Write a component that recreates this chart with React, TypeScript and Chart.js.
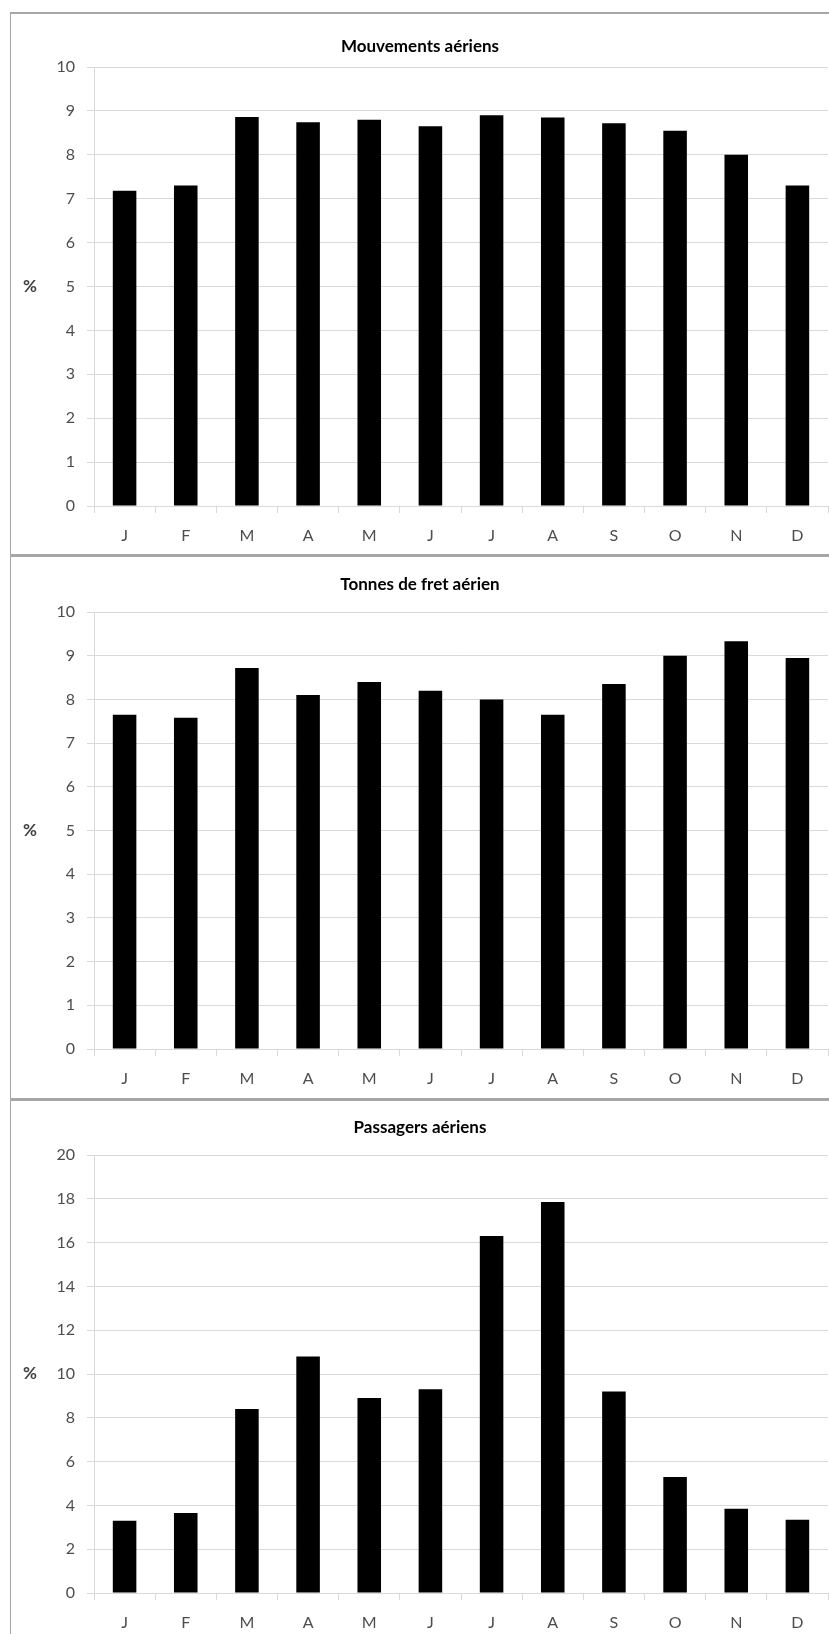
import React, { useEffect, useRef } from 'react';
import { Chart, registerables } from 'chart.js';

Chart.register(...registerables);

const MONTHS = ['J', 'F', 'M', 'A', 'M', 'J', 'J', 'A', 'S', 'O', 'N', 'D'];
const MOUVEMENTS = [7.18, 7.3, 8.86, 8.74, 8.8, 8.65, 8.9, 8.85, 8.72, 8.55, 8.0, 7.3];
const FRET = [7.65, 7.58, 8.72, 8.1, 8.4, 8.2, 8.0, 7.65, 8.35, 9.0, 9.33, 8.95];
const PASSAGERS = [3.3, 3.65, 8.4, 10.8, 8.9, 9.3, 16.3, 17.85, 9.2, 5.3, 3.85, 3.35];
const TITLES = ['Mouvements aériens', 'Tonnes de fret aérien', 'Passagers aériens'];
const Y_MAX = [10, 10, 20];
const Y_STEP = [1, 1, 2];
const UNIT = '%';

const FONT = 'Lato, Carlito, Calibri, sans-serif';
const TICK_COLOR = '#4d4d4d';
const GRID_COLOR = '#d9d9d9';

type PanelProps = {
  title: string;
  values: number[];
  max: number;
  step: number;
  top: number;
  plotTop: number;
  xHeight: number;
  titleY: number;
};

const CANVAS_W = 818;
const CANVAS_H = 540;

function Panel({ title, values, max, step, top, plotTop, xHeight, titleY }: PanelProps) {
  const ref = useRef<HTMLCanvasElement | null>(null);
  useEffect(() => {
    if (!ref.current) return;
    const overlay = {
      id: 'overlay',
      afterDraw(chart: any) {
        const ctx = chart.ctx;
        const area = chart.chartArea;
        ctx.save();
        ctx.fillStyle = '#000000';
        ctx.font = `bold 17px ${FONT}`;
        ctx.textAlign = 'center';
        ctx.textBaseline = 'middle';
        ctx.fillText(title, chart.width / 2, titleY);
        ctx.fillStyle = '#404040';
        ctx.font = `bold 17px ${FONT}`;
        ctx.fillText(UNIT, 19, (area.top + area.bottom) / 2);
        ctx.restore();
      },
    };
    const chart = new Chart(ref.current, {
      type: 'bar',
      data: {
        labels: MONTHS,
        datasets: [
          {
            data: values,
            backgroundColor: '#000000',
            borderWidth: 0,
            categoryPercentage: 1,
            barPercentage: 0.385,
          },
        ],
      },
      options: {
        animation: false,
        responsive: false,
        maintainAspectRatio: false,
        devicePixelRatio: 1,
        layout: { padding: { top: plotTop, left: 0, right: 1, bottom: 0 } },
        plugins: {
          legend: { display: false },
          tooltip: { enabled: false },
          title: { display: false },
        },
        scales: {
          x: {
            grid: { drawOnChartArea: false, tickLength: 7, color: GRID_COLOR, offset: true },
            border: { color: GRID_COLOR },
            ticks: { color: TICK_COLOR, font: { family: FONT, size: 16 }, padding: 13, maxRotation: 0 },
            afterFit: (s: any) => {
              s.height = xHeight;
            },
          },
          y: {
            min: 0,
            max,
            ticks: { stepSize: step, color: TICK_COLOR, font: { family: FONT, size: 16 }, padding: 12 },
            grid: { color: GRID_COLOR, tickLength: 7 },
            border: { color: GRID_COLOR },
            afterFit: (s: any) => {
              s.width = 83;
            },
          },
        },
      },
      plugins: [overlay],
    });
    return () => chart.destroy();
  }, [title, values, max, step, plotTop, xHeight, titleY]);

  return (
    <canvas
      ref={ref}
      width={CANVAS_W}
      height={CANVAS_H}
      style={{ position: 'absolute', left: 11, top, width: CANVAS_W, height: CANVAS_H }}
    />
  );
}

export default function App() {
  const series = [MOUVEMENTS, FRET, PASSAGERS];
  const layout = [
    { top: 14, plotTop: 53, xHeight: 48, titleY: 33 },
    { top: 558, plotTop: 54, xHeight: 49, titleY: 27 },
    { top: 1102, plotTop: 53, xHeight: 49, titleY: 26 },
  ];
  return (
    <div
      style={{
        position: 'absolute',
        left: 0,
        top: 0,
        width: 829,
        height: 1634,
        overflow: 'hidden',
        background: '#ffffff',
      }}
    >
      <div style={{ position: 'absolute', left: 10, top: 12, width: 840, height: 2, background: '#a6a6a6' }} />
      <div style={{ position: 'absolute', left: 10, top: 12, width: 1, height: 1640, background: '#a6a6a6' }} />
      <div style={{ position: 'absolute', left: 10, top: 554, width: 840, height: 3, background: '#a6a6a6' }} />
      <div style={{ position: 'absolute', left: 10, top: 1098, width: 840, height: 3, background: '#a6a6a6' }} />
      {series.map((vals, i) => (
        <Panel
          key={i}
          title={TITLES[i]}
          values={vals}
          max={Y_MAX[i]}
          step={Y_STEP[i]}
          {...layout[i]}
        />
      ))}
    </div>
  );
}
